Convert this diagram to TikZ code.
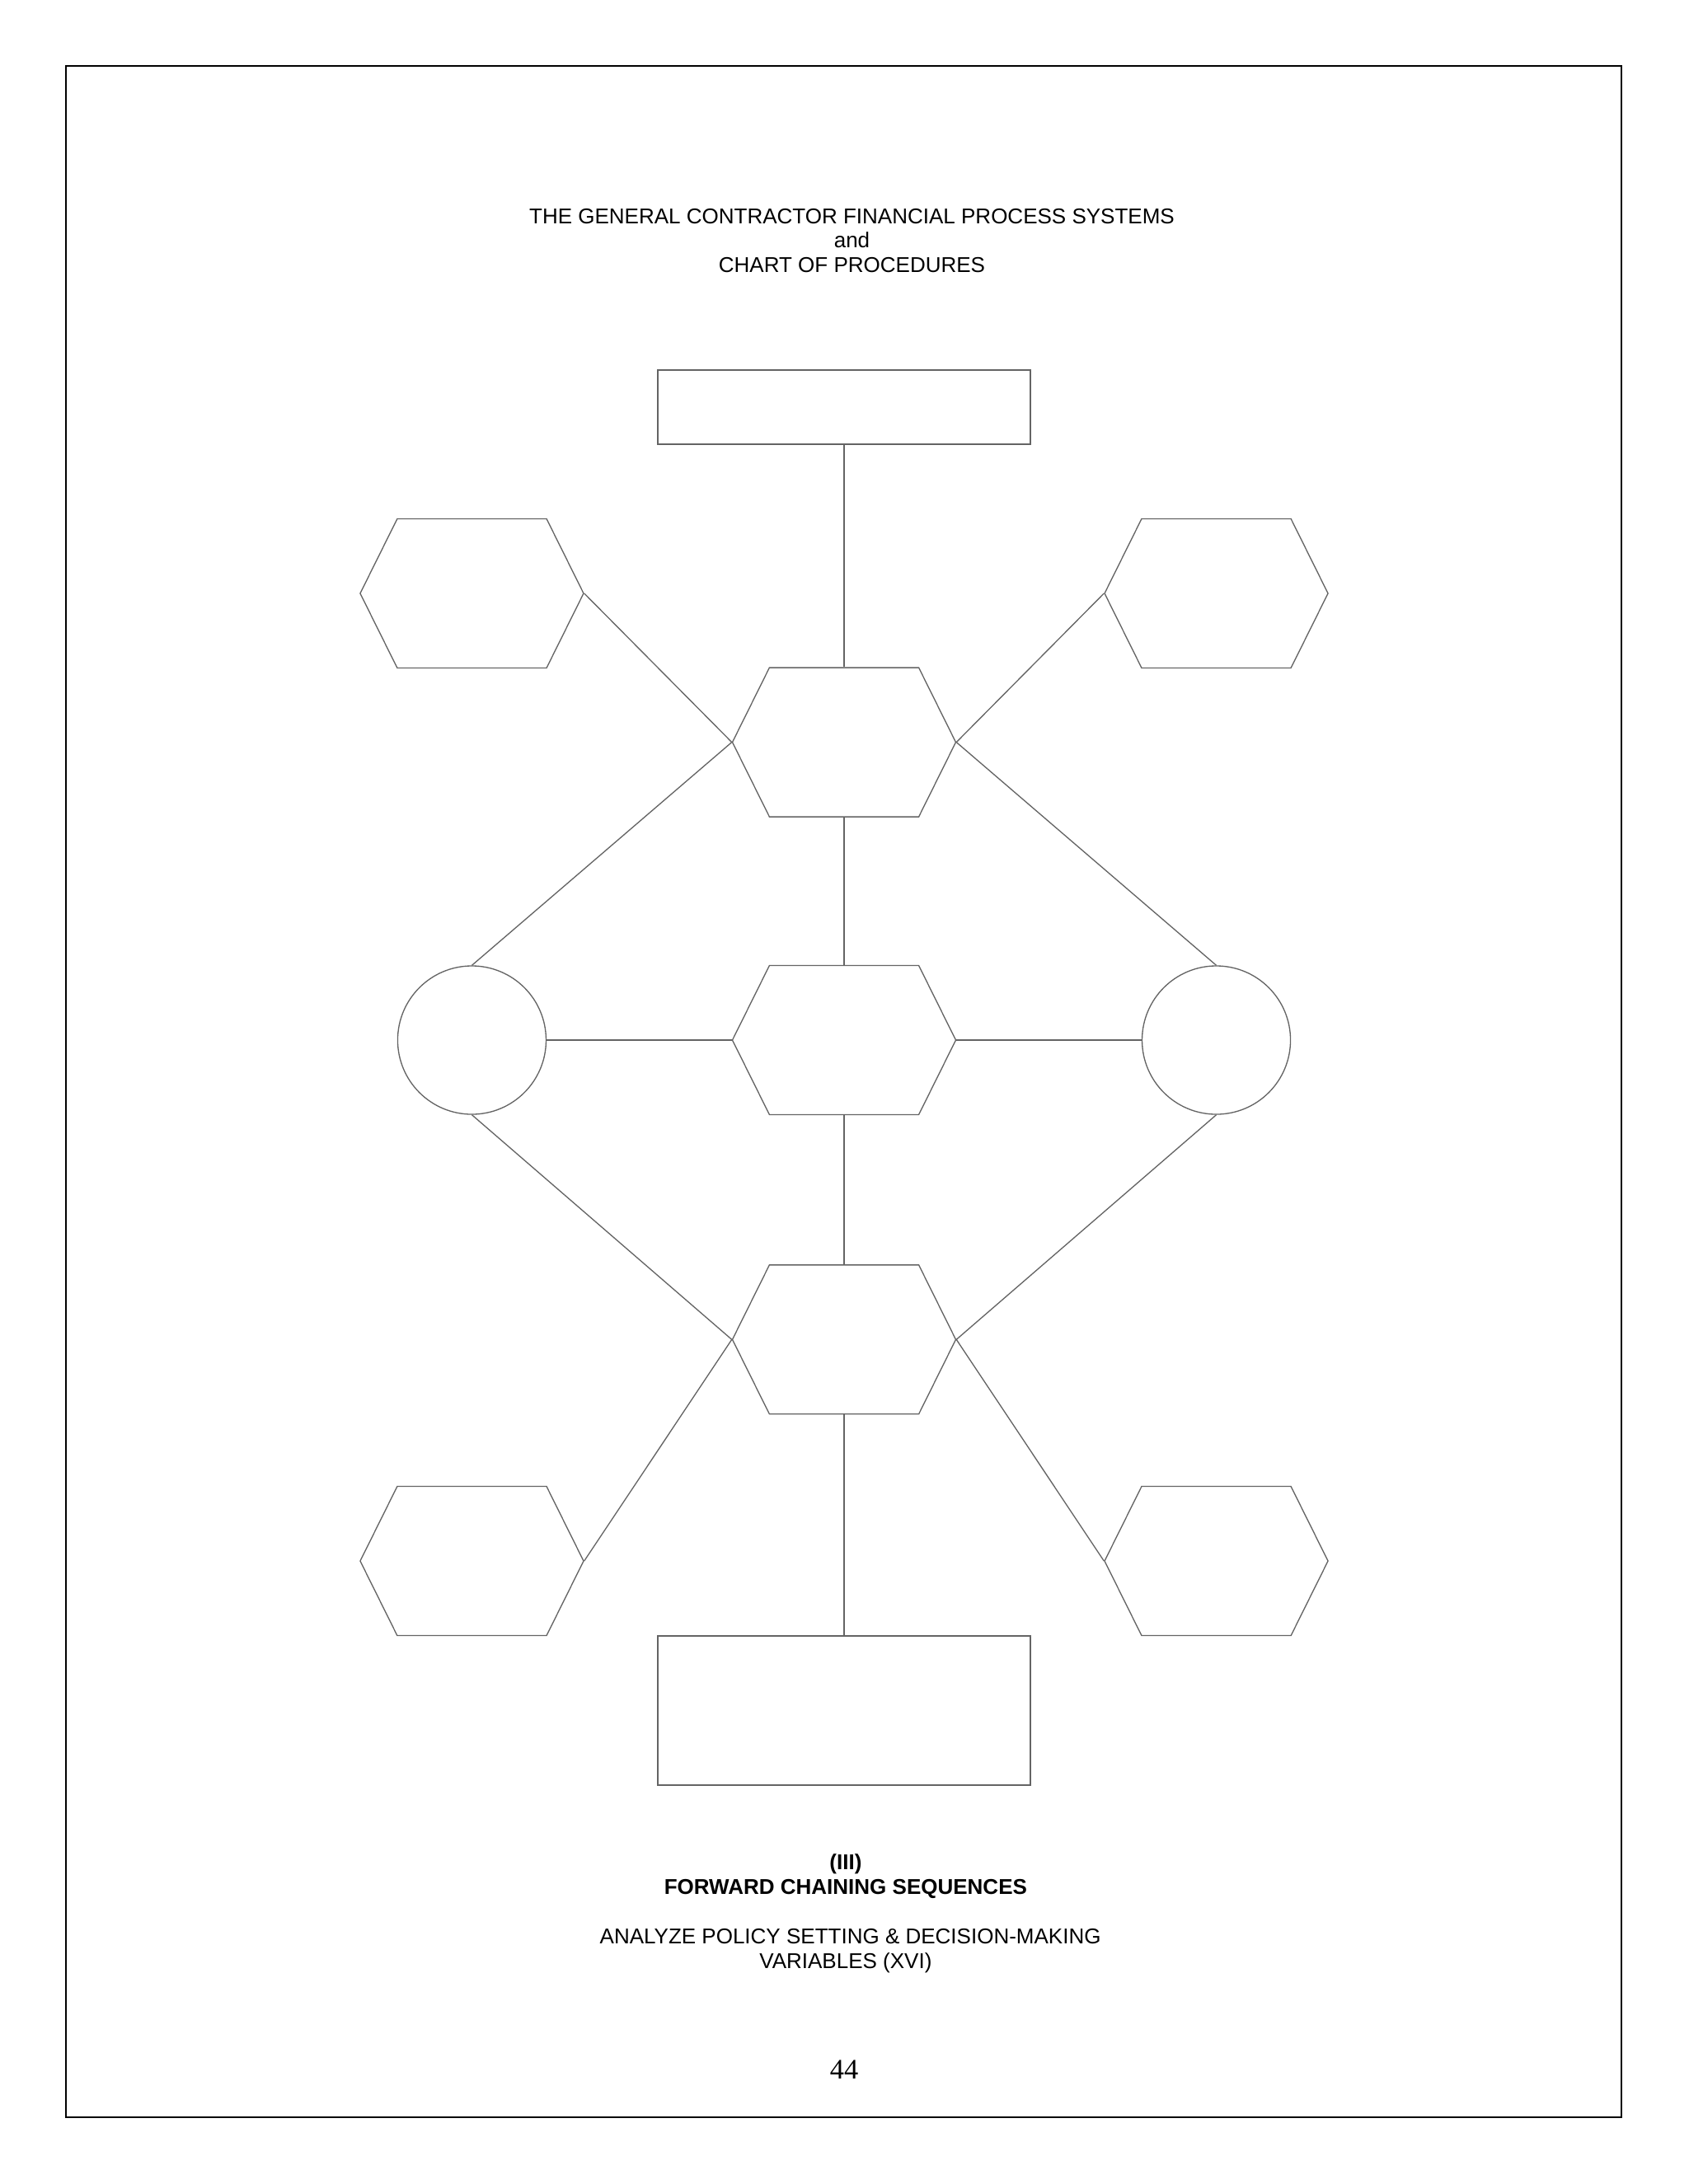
\documentclass[tikz,border=0pt]{standalone}
\usepackage{fontspec}
\setmainfont{Liberation Sans}
\newfontfamily\pagenofont{Liberation Serif}
\usepackage{tikz}
\usetikzlibrary{shapes.symbols}

\definecolor{linegray}{RGB}{100,100,100}

\begin{document}
\begin{tikzpicture}[
    box/.style={draw=linegray,line width=0.4pt,rectangle,inner sep=0pt,minimum width=4.765cm},
    hex/.style={draw=linegray,line width=0.4pt,signal,signal to=east and west,signal pointer angle=127.2,inner sep=0pt,minimum width=2.857cm,minimum height=1.908cm},
    disc/.style={draw=linegray,line width=0.4pt,circle,inner sep=0pt,minimum size=1.898cm},
    txt/.style={inner sep=0pt,anchor=base,font=\fontsize{7.8}{9}\selectfont},
    link/.style={draw=linegray,line width=0.4pt}
  ]

  \useasboundingbox (-10.795,-14.632) rectangle (10.795,13.304);
  \draw [line width=0.6pt] (-9.952,-13.778) rectangle (9.941,12.461);

  \node [txt] (title_1) at (0.1,10.447) {THE GENERAL CONTRACTOR FINANCIAL PROCESS SYSTEMS};
  \node [txt] (title_2) at (0.1,10.141) {and};
  \node [txt] (title_3) at (0.1,9.825) {CHART OF PROCEDURES};

  \node [box,minimum height=0.949cm] (plan) at (0,8.096) {};
  \node [hex] (in_l) at (-4.76,5.714) {};
  \node [hex] (in_r) at (4.76,5.714) {};
  \node [hex] (hub_a) at (0,3.81) {};
  \node [disc] (var_l) at (-4.76,0) {};
  \node [hex] (hub_b) at (0,0) {};
  \node [disc] (var_r) at (4.76,0) {};
  \node [hex] (hub_c) at (0,-3.83) {};
  \node [hex] (out_l) at (-4.76,-6.663) {};
  \node [hex] (out_r) at (4.76,-6.663) {};
  \node [box,minimum height=1.908cm] (result) at (0,-8.576) {};

  \path [link]
    (plan.south)  edge (hub_a.north)
    (in_l.east)   edge (hub_a.west)
    (in_r.west)   edge (hub_a.east)
    (hub_a.west)  edge (var_l.north)
    (hub_a.east)  edge (var_r.north)
    (hub_a.south) edge (hub_b.north)
    (var_l.east)  edge (hub_b.west)
    (hub_b.east)  edge (var_r.west)
    (var_l.south) edge (hub_c.west)
    (var_r.south) edge (hub_c.east)
    (hub_b.south) edge (hub_c.north)
    (hub_c.west)  edge (out_l.east)
    (hub_c.east)  edge (out_r.west)
    (hub_c.south) edge (result.north);

  \node [txt,font=\bfseries\fontsize{7.8}{9}\selectfont] (part) at (0.02,-10.605) {(III)};
  \node [txt,font=\bfseries\fontsize{7.8}{9}\selectfont] (part_name) at (0.02,-10.922) {FORWARD CHAINING SEQUENCES};
  \node [txt] (task_1) at (0.08,-11.554) {ANALYZE POLICY SETTING \& DECISION-MAKING};
  \node [txt] (task_2) at (0.02,-11.870) {VARIABLES (XVI)};
  \node [txt,font=\pagenofont\fontsize{10.3}{12}\selectfont] (page_no) at (0,-13.283) {44};

\end{tikzpicture}
\end{document}
